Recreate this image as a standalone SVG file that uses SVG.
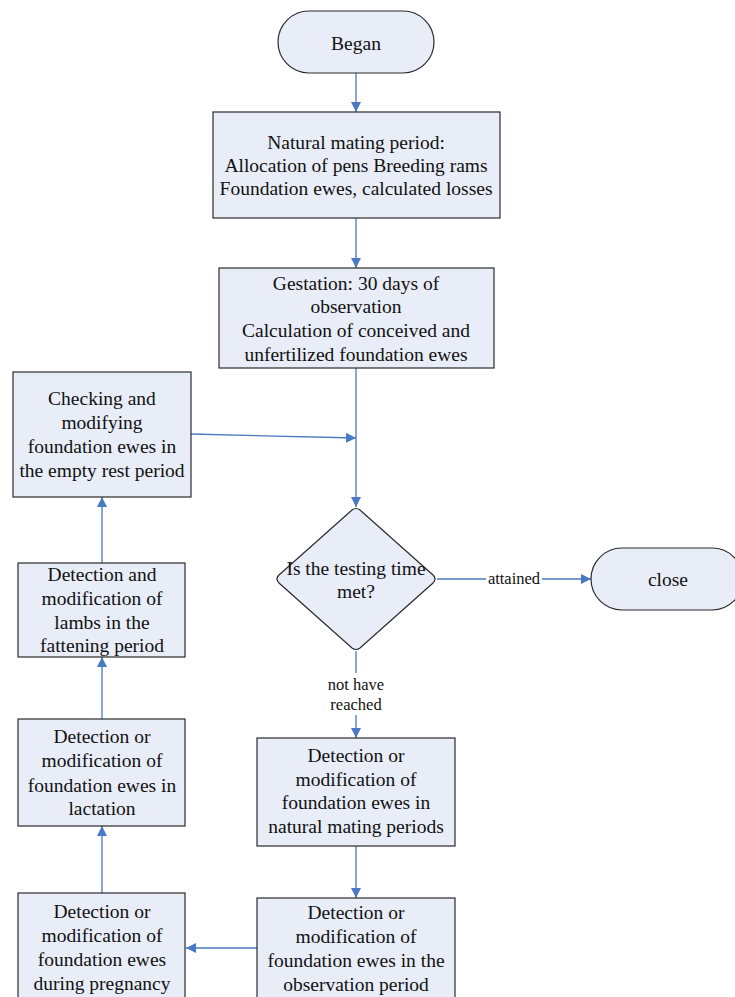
<svg xmlns="http://www.w3.org/2000/svg" width="735" height="997" viewBox="0 0 735 997">
<defs>
<style>
.n{fill:#E8EDF7;stroke:#2b2b2b;stroke-width:1.2}
.t{font-family:"Liberation Serif","Times New Roman",serif;font-size:19.5px;fill:#111;text-anchor:middle}
.s{font-family:"Liberation Serif","Times New Roman",serif;font-size:16.5px;fill:#111;text-anchor:middle}
.c{stroke:#4a78c2;stroke-width:1.3;fill:none}
</style>
<marker id="ah" viewBox="0 0 10 10" refX="10" refY="5" markerWidth="10" markerHeight="10" markerUnits="userSpaceOnUse" orient="auto">
<path d="M0,0 L10,5 L0,10 z" fill="#4a78c2"/>
</marker>
</defs>
<rect width="735" height="997" fill="#fff"/>
<g id="connectors">
<line class="c" x1="356" y1="73" x2="356" y2="112" marker-end="url(#ah)"/>
<line class="c" x1="356" y1="218" x2="356" y2="268" marker-end="url(#ah)"/>
<line class="c" x1="356" y1="368" x2="356" y2="507" marker-end="url(#ah)"/>
<line class="c" x1="191" y1="434" x2="356" y2="438" marker-end="url(#ah)"/>
<line class="c" x1="437" y1="579" x2="486" y2="579"/>
<line class="c" x1="542" y1="579" x2="591" y2="579" marker-end="url(#ah)"/>
<text class="s" x="514" y="584">attained</text>
<line class="c" x1="356" y1="651" x2="356" y2="673"/>
<line class="c" x1="356" y1="715" x2="356" y2="738" marker-end="url(#ah)"/>
<text class="s" x="356" y="690">not have</text>
<text class="s" x="356" y="710">reached</text>
<line class="c" x1="356" y1="846" x2="356" y2="898" marker-end="url(#ah)"/>
<line class="c" x1="257" y1="948" x2="186" y2="948" marker-end="url(#ah)"/>
<line class="c" x1="102" y1="893" x2="102" y2="826" marker-end="url(#ah)"/>
<line class="c" x1="102" y1="719" x2="102" y2="657" marker-end="url(#ah)"/>
<line class="c" x1="102" y1="563" x2="102" y2="497" marker-end="url(#ah)"/>
</g>
<g id="began">
<rect class="n" x="278" y="11" width="156" height="62" rx="31"/>
<text class="t" x="356" y="50">Began</text>
</g>
<g id="mating">
<rect class="n" x="213" y="112" width="287" height="106"/>
<text class="t" x="356" y="149">Natural mating period:</text>
<text class="t" x="356" y="172">Allocation of pens Breeding rams</text>
<text class="t" x="356" y="195">Foundation ewes, calculated losses</text>
</g>
<g id="gestation">
<rect class="n" x="219" y="268" width="275" height="100"/>
<text class="t" x="356" y="290">Gestation: 30 days of</text>
<text class="t" x="356" y="313">observation</text>
<text class="t" x="356" y="337">Calculation of conceived and</text>
<text class="t" x="356" y="361">unfertilized foundation ewes</text>
</g>
<g id="checking">
<rect class="n" x="13" y="372" width="178" height="125"/>
<text class="t" x="102" y="405">Checking and</text>
<text class="t" x="102" y="429">modifying</text>
<text class="t" x="102" y="453">foundation ewes in</text>
<text class="t" x="102" y="477">the empty rest period</text>
</g>
<g id="decision">
<path class="n" d="M352,510 Q356,507 360,510 L433,575 Q437,579 433,583 L360,648 Q356,651 352,648 L279,583 Q275,579 279,575 Z"/>
<text class="t" x="356" y="575">Is the testing time</text>
<text class="t" x="356" y="598">met?</text>
</g>
<g id="close">
<rect class="n" x="591" y="548" width="152" height="62" rx="31"/>
<text class="t" x="668" y="586">close</text>
</g>
<g id="natural">
<rect class="n" x="257" y="738" width="198" height="108"/>
<text class="t" x="356" y="762">Detection or</text>
<text class="t" x="356" y="786">modification of</text>
<text class="t" x="356" y="809">foundation ewes in</text>
<text class="t" x="356" y="833">natural mating periods</text>
</g>
<g id="observation">
<rect class="n" x="257" y="898" width="198" height="110"/>
<text class="t" x="356" y="919">Detection or</text>
<text class="t" x="356" y="943">modification of</text>
<text class="t" x="356" y="967">foundation ewes in the</text>
<text class="t" x="356" y="991">observation period</text>
</g>
<g id="pregnancy">
<rect class="n" x="18" y="893" width="167" height="115"/>
<text class="t" x="102" y="918">Detection or</text>
<text class="t" x="102" y="942">modification of</text>
<text class="t" x="102" y="966">foundation ewes</text>
<text class="t" x="102" y="990">during pregnancy</text>
</g>
<g id="lactation">
<rect class="n" x="18" y="719" width="167" height="107"/>
<text class="t" x="102" y="743">Detection or</text>
<text class="t" x="102" y="767">modification of</text>
<text class="t" x="102" y="792">foundation ewes in</text>
<text class="t" x="102" y="815">lactation</text>
</g>
<g id="lambs">
<rect class="n" x="18" y="563" width="167" height="94"/>
<text class="t" x="102" y="581">Detection and</text>
<text class="t" x="102" y="605">modification of</text>
<text class="t" x="102" y="629">lambs in the</text>
<text class="t" x="102" y="652">fattening period</text>
</g>
</svg>
